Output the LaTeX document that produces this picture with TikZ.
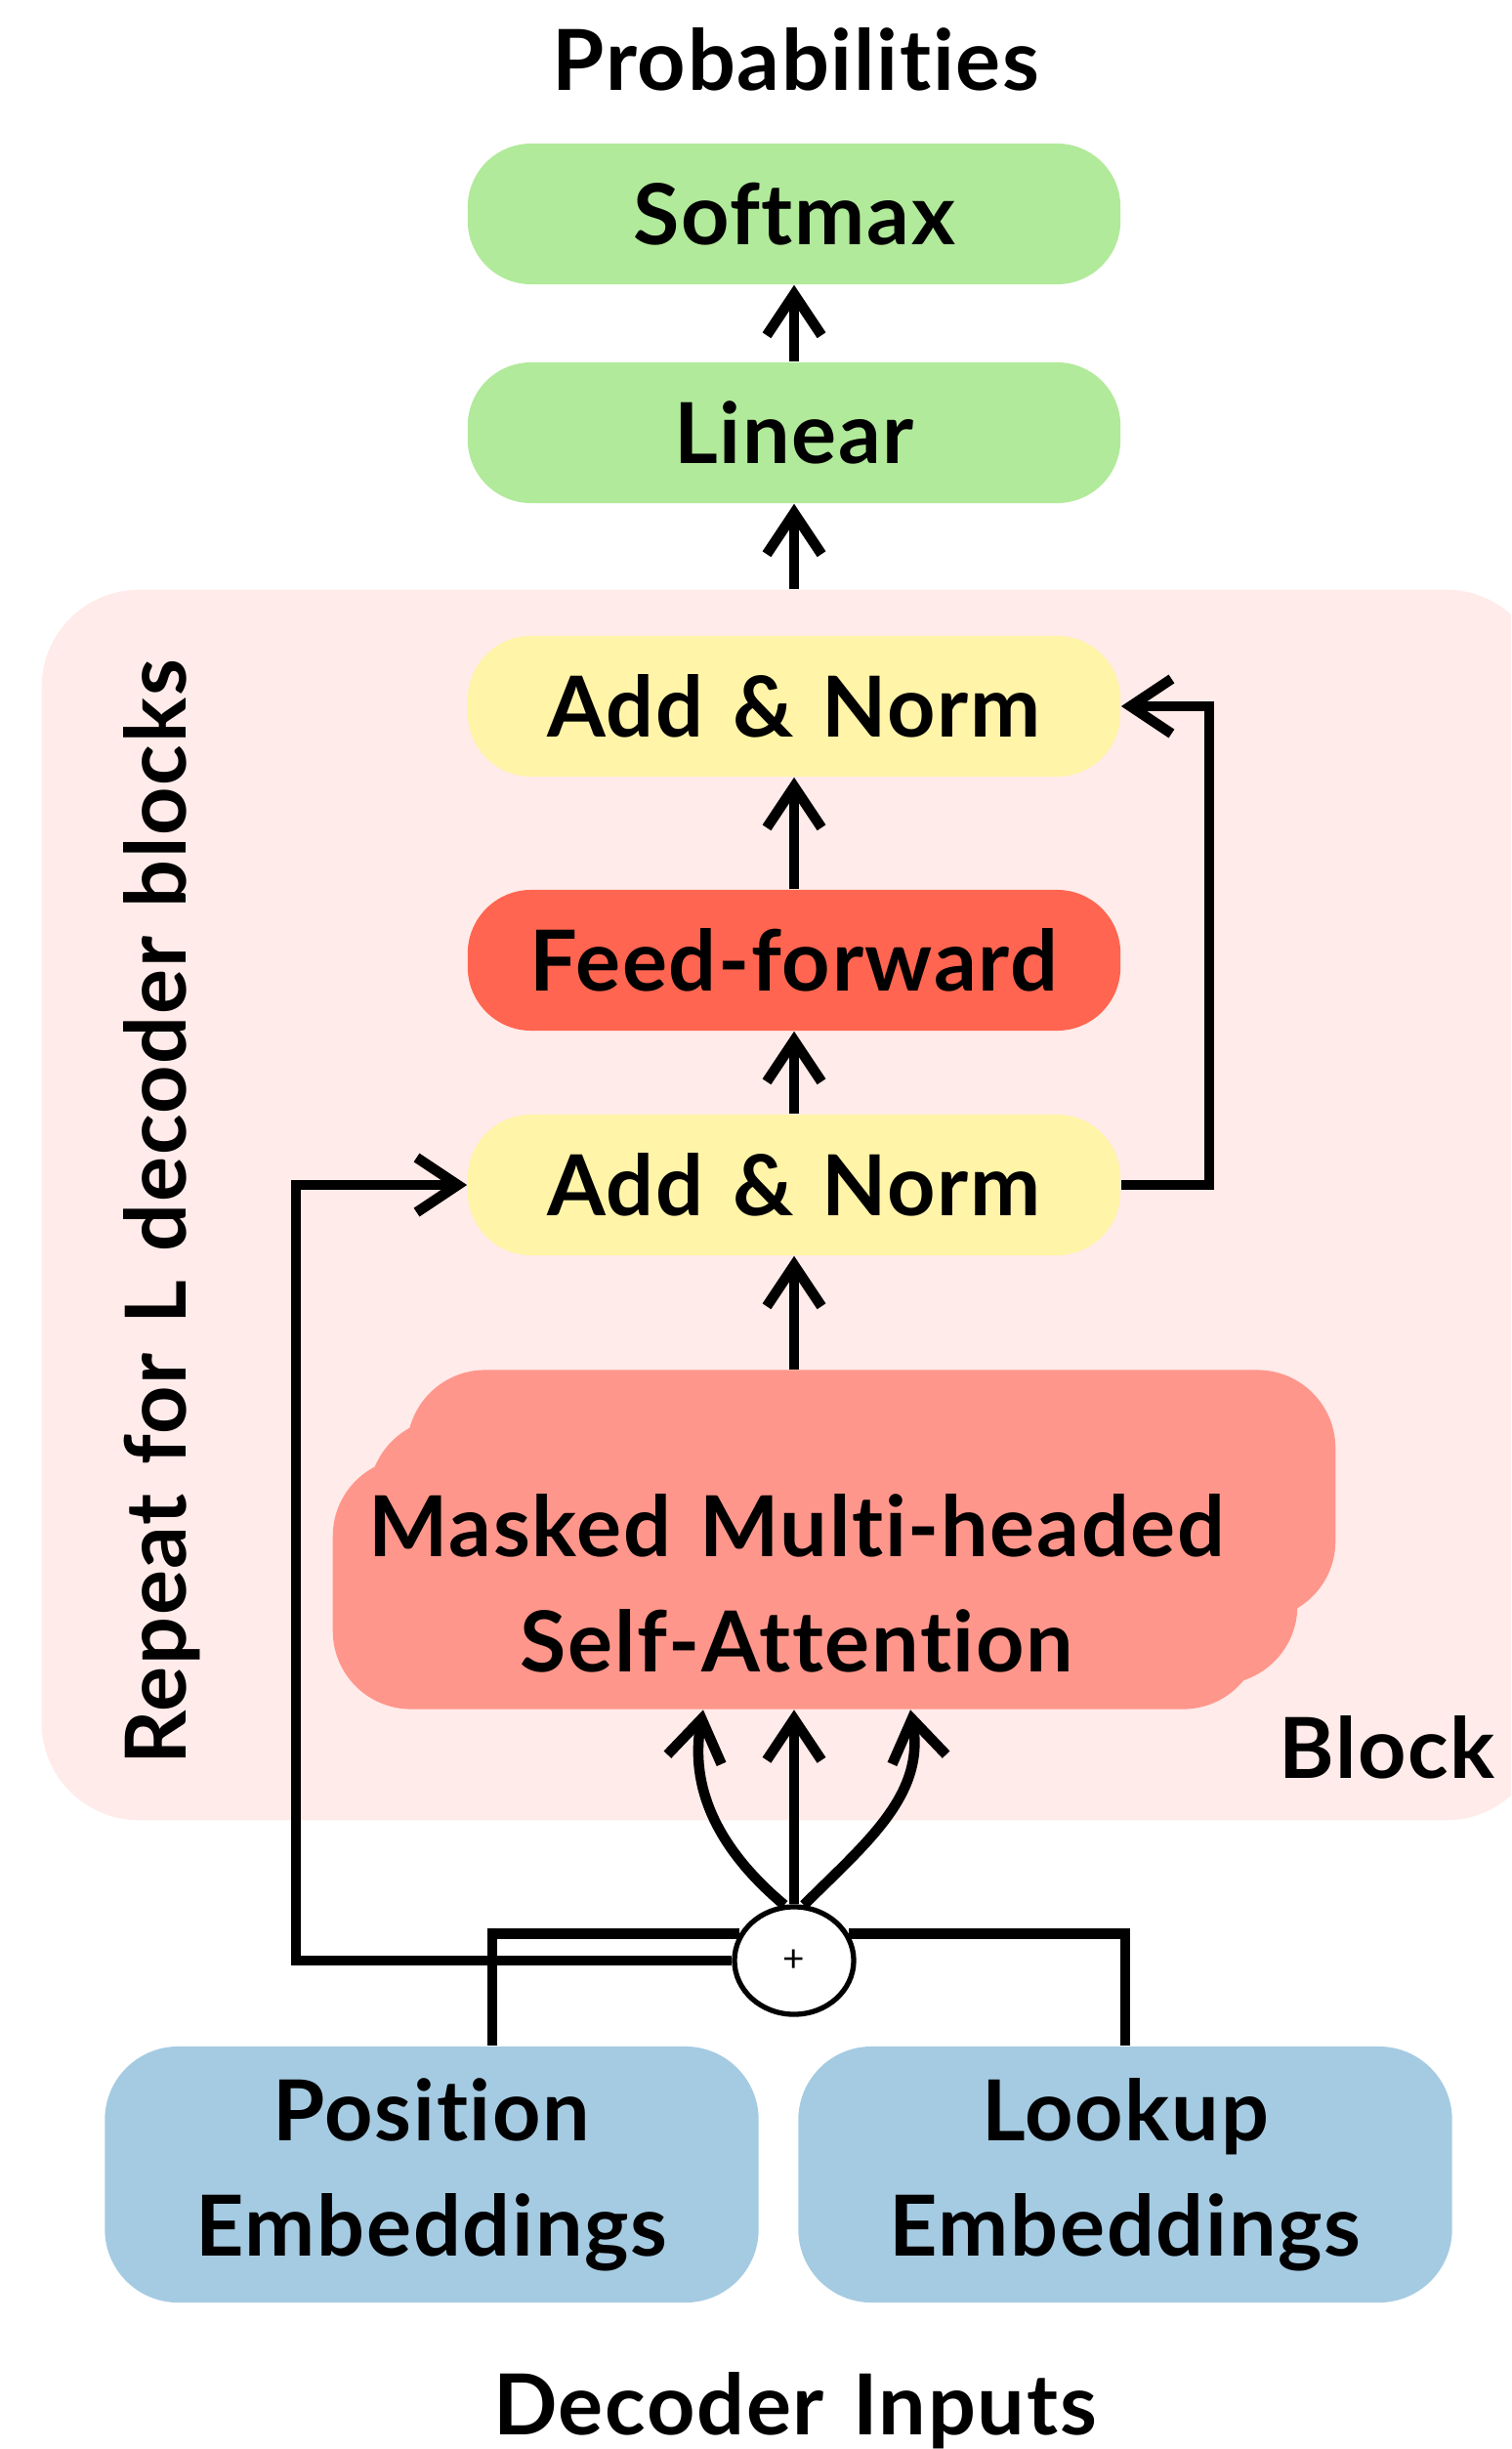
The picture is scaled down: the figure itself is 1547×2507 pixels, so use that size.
\documentclass[tikz,border=0pt]{standalone}
\usepackage{fontspec}
\setmainfont{Lato}[LetterSpace=2, WordSpace=1.3, Ligatures=NoCommon]
\usetikzlibrary{arrows.meta,shapes.geometric}
\definecolor{outgreen}{HTML}{B1EA9A}
\definecolor{normyellow}{HTML}{FFF4A8}
\definecolor{ffred}{HTML}{FF6550}
\definecolor{attred}{HTML}{FF968B}
\definecolor{blockpink}{HTML}{FFEBE9}
\definecolor{embblue}{HTML}{A5CBE2}
\begin{document}
\begin{tikzpicture}[x=0.01cm, y=-0.01cm, font=\fontsize{24.5}{33.5}\selectfont\bfseries,
  box/.style={rounded corners=0.65cm, minimum width=6.68cm, minimum height=1.44cm, inner sep=0pt},
  layer/.style={fill=attred, rounded corners=0.8cm, minimum width=9.5cm, inner sep=0pt},
  embbox/.style={fill=embblue, rounded corners=0.75cm, minimum width=6.69cm, minimum height=2.62cm, align=center},
  arr/.style={line width=3pt, -{Straight Barb[length=0.42cm, width=0.56cm]}},
  wire/.style={line width=3pt}]
  \useasboundingbox (0,0) rectangle (1547,2507);
  % output side
  \node[anchor=base] (prob) at (815,93) {Probabilities};
  \node[box, fill=outgreen] (softmax) at (813,219) {Softmax};
  \node[box, fill=outgreen] (linear) at (813,443) {Linear};
  % the repeated block
  \begin{scope}\clip (0,0) rectangle (1547,2507);
    \node[fill=blockpink, rounded corners=1cm, minimum width=15.37cm, minimum height=12.59cm] (block) at (811.5,1233.5) {};
  \end{scope}
  \node[box, fill=normyellow] (addnorm2) at (813,723) {Add \& Norm};
  \node[box, fill=ffred] (ff) at (813,983) {Feed-forward};
  \node[box, fill=normyellow] (addnorm1) at (813,1213) {Add \& Norm};
  \node[layer, minimum height=2.55cm] (attback) at (892,1530) {};
  \node[layer, minimum height=2.72cm] (attmid) at (853,1588) {};
  \node[layer, minimum height=2.57cm, align=center] (att) at (816,1621) {Masked Multi-headed\\Self-Attention};
  \node[anchor=base] (blocklbl) at (1420,1820) {Block};
  \node[rotate=90, anchor=base] (repeatlbl) at (190,1241) {Repeat for L decoder blocks};
  % inputs
  \node[draw, ellipse, fill=white, line width=1.5pt, minimum width=1.22cm, minimum height=1.1cm, inner sep=0pt,
    font=\fontsize{11}{13}\selectfont] (plus) at (813,2007) {+};
  \node[embbox] (posemb) at (442,2226) {Position\\Embeddings};
  \node[embbox] (lookemb) at (1152,2226) {Lookup\\Embeddings};
  \node[anchor=base] (decin) at (814,2492) {Decoder Inputs};
  % connectors
  \draw[arr] (linear) -- (softmax);
  \draw[arr] (linear.south |- block.north) -- (linear);
  \draw[arr] (ff) -- (addnorm2);
  \draw[arr] (addnorm1) -- (ff);
  \draw[arr] (addnorm1.south |- attback.north) -- (addnorm1);
  \draw[arr] (addnorm1.east) -- ++(0.9cm,0) |- (addnorm2.east);
  \draw[arr] (plus.west) -| ([xshift=-1.75cm]addnorm1.west) -- (addnorm1.west);
  \draw[wire] ([xshift=0.62cm]posemb.north) |- (plus.154);
  \draw[wire] (lookemb.north) |- (plus.26);
  \draw[arr] (plus.north) -- (plus.north |- att.south);
  \draw[arr] (plus.100) to[out=140, in=-100] ([xshift=-0.96cm]att.south);
  \draw[arr] (plus.80) to[out=45, in=-80] ([xshift=1.16cm]att.south);
\end{tikzpicture}
\end{document}
